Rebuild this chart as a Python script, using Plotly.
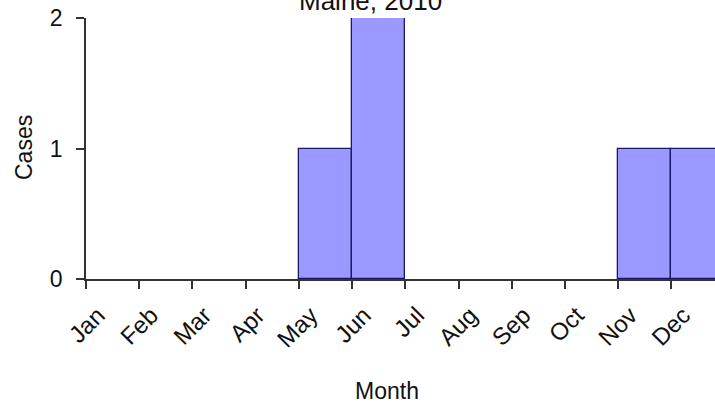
import plotly.graph_objects as go

months = ["Jan", "Feb", "Mar", "Apr", "May", "Jun",
          "Jul", "Aug", "Sep", "Oct", "Nov", "Dec"]
cases = [0, 0, 0, 0, 1, 2, 0, 0, 0, 0, 1, 1]

# bins start at each month tick, so bar centres sit half a month to the right
starts = list(range(len(months)))
centres = [s + 0.5 for s in starts]
# empty months get no outline, so the axis line stays grey
outline = [1.3 if c > 0 else 0 for c in cases]

font = "Arial, Liberation Sans, sans-serif"

fig = go.Figure()
fig.add_trace(go.Bar(
    x=centres,
    y=cases,
    width=1,
    marker=dict(color="#9999FF", line=dict(color="#1a1a66", width=outline)),
    showlegend=False,
))

fig.update_layout(
    width=715, height=406,
    margin=dict(l=86, r=0, t=18, b=127),
    paper_bgcolor="white",
    plot_bgcolor="white",
    font=dict(family=font, size=21, color="#111111"),
    bargap=0,
)

fig.update_xaxes(
    range=[0, 11.82], automargin=False,
    tickmode="array", tickvals=starts, ticktext=months,
    tickangle=-45,
    ticks="outside", ticklen=8, tickwidth=1.5, tickcolor="#333333",
    showline=True, linecolor="#333333", linewidth=1.5,
    showgrid=False, zeroline=False,
    tickfont=dict(size=24),
    ticklabelstandoff=3, ticklabelshift=12,
)
fig.update_yaxes(
    range=[0, 2], automargin=False,
    tickmode="array", tickvals=[0, 1, 2],
    ticks="outside", ticklen=8, tickwidth=1.5, tickcolor="#333333",
    showline=True, linecolor="#333333", linewidth=1.5,
    showgrid=False, zeroline=False,
    tickfont=dict(size=23),
    ticklabelstandoff=9,
)

# title and axis titles, positioned relative to the plot area
fig.add_annotation(
    text="Maine, 2010", x=5.34, xref="x", y=1, yref="paper",
    yanchor="bottom", showarrow=False,
    font=dict(size=26, family=font, color="#111111"),
)
fig.add_annotation(
    text="Month", x=5.66, xref="x", y=-(391 - 279) / 261, yref="paper",
    yanchor="middle", showarrow=False,
    font=dict(size=23, family=font, color="#111111"),
)
fig.add_annotation(
    text="Cases", textangle=-90, x=0, xref="paper", xshift=-77,
    y=(279 - 148) / 261, yref="paper", yanchor="middle", showarrow=False,
    font=dict(size=23, family=font, color="#111111"),
)

# drop the default 8px body margin so the figure sits at the window corner
fig.write_html("out.html", config={"displayModeBar": False},
               post_script="document.body.style.margin='0';")
